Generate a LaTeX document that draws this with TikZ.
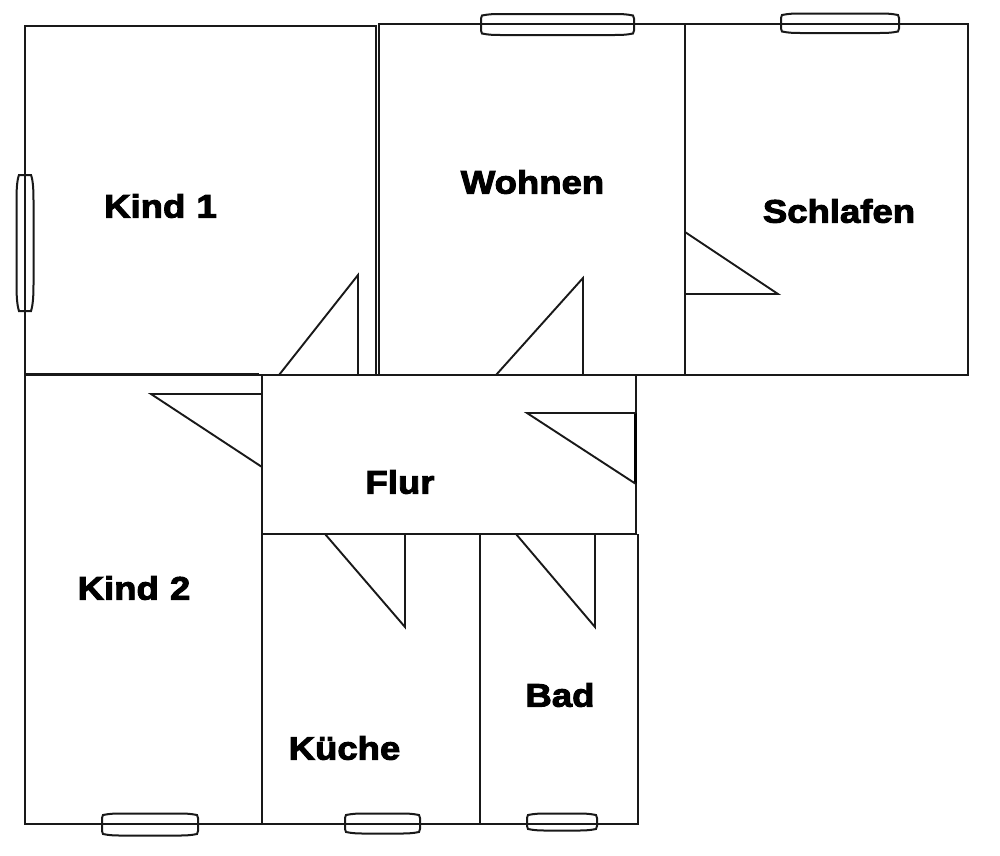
\documentclass[tikz,border=0pt]{standalone}
\usepackage{fontspec}
\setmainfont{DejaVu Sans}
\newfontfamily\roomfont[FakeBold=3,FakeStretch=1.12,WordSpace=1.1]{Liberation Sans Bold}
\tikzset{
  wall/.style={draw=black!90,line width=2pt},
  heavy/.style={draw=black,line width=3.2pt},
  door/.style={draw=black!90,line width=1.9pt,line join=miter},
  win/.style={draw=black!90,line width=2pt,fill=none},
  room/.style={font=\roomfont\fontsize{32.6}{34}\selectfont,text=black,inner sep=0pt,anchor=center},
}
% horizontal window: x1,x2,y1,y2
\newcommand{\hwin}[4]{%
  \draw[win] (#1+1,#3) .. controls (#1+8,#3-1.5) and (#1+14,#3-1.5) .. (#1+20,#3-1.5)
    -- (#2-20,#3-1.5) .. controls (#2-14,#3-1.5) and (#2-8,#3-1.5) .. (#2-1,#3)
    -- (#2,#3+3) -- (#2,#4-3) -- (#2-1,#4)
    .. controls (#2-8,#4+1.5) and (#2-14,#4+1.5) .. (#2-20,#4+1.5)
    -- (#1+20,#4+1.5) .. controls (#1+14,#4+1.5) and (#1+8,#4+1.5) .. (#1+1,#4)
    -- (#1,#4-3) -- (#1,#3+3) -- cycle;}
\begin{document}
\begin{tikzpicture}[x=1pt,y=-1pt]
\useasboundingbox[fill=white] (0,0) rectangle (1000,855);
% walls
\draw[wall] (25,375) -- (25,26) -- (376,26) -- (376,375);
\draw[wall] (379,375) -- (379,24) -- (685,24) -- (685,375);
\draw[wall] (685,24) -- (968,24) -- (968,375) -- (685,375);
\draw[wall] (25,375) -- (685,375);
\draw[wall] (25,375) -- (25,824) -- (638,824) -- (638,534);
\draw[wall] (262,375) -- (262,824);
\draw[wall] (262,534) -- (637,534);
\draw[wall] (636,375) -- (636,534);
\draw[wall] (480,534) -- (480,824);
\draw[wall,line width=2.6pt] (25,374.5) -- (259,374.5);
\draw[heavy] (635.5,413) -- (635.5,484);
% windows
\hwin{481}{634}{15.5}{33.5}
\hwin{781}{899}{15}{31.5}
\hwin{102}{198}{815}{834}
\hwin{345}{420}{815}{832}
\hwin{527}{597}{815}{829}
\draw[win] (19,175) -- (31,175) .. controls (33,180) and (33.5,190) .. (33.5,200)
  -- (33.5,285) .. controls (33.5,295) and (33,305) .. (31,311)
  -- (19,311) .. controls (17,305) and (16.5,295) .. (16.5,285)
  -- (16.5,200) .. controls (16.5,190) and (17,180) .. (19,175) -- cycle;
% doors
\draw[door] (279,375) -- (358,275) -- (358,375);
\draw[door] (496,375) -- (583,278) -- (583,375);
\draw[door] (685,232) -- (778,294) -- (685,294);
\draw[door] (262,467) -- (151,394) -- (262,394);
\draw[door] (636,484) -- (527,413) -- (636,413);
\draw[door] (325,534) -- (405,627) -- (405,534);
\draw[door] (516,534) -- (595,627) -- (595,534);
% labels
\node[room] (k1) at (160.5,206) {Kind 1};
\node[room] (wo) at (532.5,182) {Wohnen};
\node[room] (sc) at (839,211) {Schlafen};
\node[room] (fl) at (400,482) {Flur};
\node[room] (k2) at (134,588) {Kind 2};
\node[room] (ku) at (344.5,748) {Küche};
\node[room] (ba) at (560,695) {Bad};
\end{tikzpicture}
\end{document}
